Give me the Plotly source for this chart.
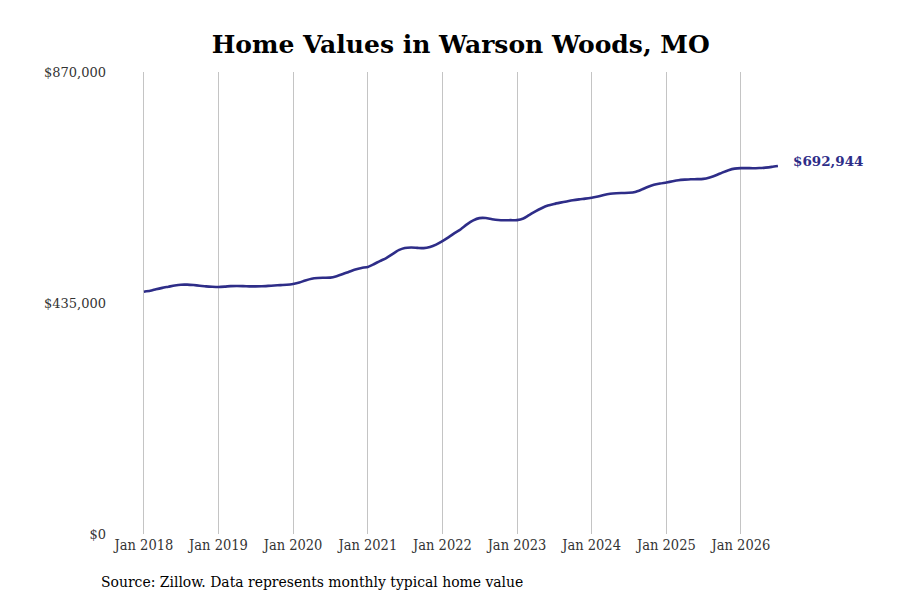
import pandas as pd
import plotly.graph_objects as go

# Monthly typical home value, Jan 2018 - Jul 2026
values_2018 = [456300, 458000, 460800, 463500, 465700, 468000, 469500, 469600, 468800, 467600, 466300, 465500]
values_2019 = [465100, 465800, 466800, 467100, 466800, 466400, 466300, 466500, 467200, 468000, 468700, 469300]
values_2020 = [470800, 473500, 477500, 480800, 482100, 482500, 482800, 485500, 489500, 494000, 498200, 501000]
values_2021 = [503000, 508500, 514000, 519500, 527000, 534500, 538500, 539500, 538800, 538300, 540500, 545000]
values_2022 = [551500, 559000, 566500, 574000, 583000, 590500, 594800, 595000, 592800, 591300, 590800, 591000]
values_2023 = [591000, 594000, 600500, 607500, 613500, 618500, 621500, 624000, 626300, 628500, 630200, 631500]
values_2024 = [633300, 635500, 638500, 640800, 641800, 642200, 642500, 644000, 648500, 653500, 657500, 660000]
values_2025 = [662000, 664300, 666200, 667300, 668000, 668200, 668800, 671500, 675500, 680500, 685000, 688000]
values_2026 = [689000, 689000, 688800, 689200, 690000, 691300, 692944]

values = (values_2018 + values_2019 + values_2020 + values_2021 + values_2022
          + values_2023 + values_2024 + values_2025 + values_2026)
dates = pd.date_range("2018-01-01", periods=len(values), freq="MS")

tick_dates = [f"{y}-01-01" for y in range(2018, 2027)]
tick_labels = [f"Jan {y}" for y in range(2018, 2027)]
y_ticks = [0, 435000, 870000]
y_tick_labels = ["$0", "$435,000", "$870,000"]

title_text = "Home Values in Warson Woods, MO"
source_text = "Source: Zillow. Data represents monthly typical home value"
last_label = f"${values[-1]:,}"

line_color = "#2e2d88"

ML, MR, MT, MB = 112, 108, 64, 74
PW = 900 - ML - MR
PH = 600 - MT - MB

fig = go.Figure()
fig.add_trace(go.Scatter(
    x=dates, y=values, mode="lines",
    line=dict(color=line_color, width=2.6, shape="spline", smoothing=0.6),
    hoverinfo="skip", showlegend=False,
))

fig.add_annotation(
    x=dates[-1], y=values[-1], xref="x", yref="y",
    text=f"<b>{last_label}</b>", showarrow=False,
    xanchor="left", yanchor="middle", xshift=13, yshift=5,
    font=dict(family="DejaVu Serif", size=13.5, color=line_color),
)

fig.add_annotation(
    text=source_text, showarrow=False,
    xref="paper", yref="paper",
    x=(91 - ML) / PW, y=-(574 - (600 - MB)) / PH,
    xanchor="left", yanchor="middle",
    font=dict(family="DejaVu Serif Condensed, DejaVu Serif", size=15.5, color="black"),
)

fig.update_layout(
    width=900, height=600,
    paper_bgcolor="white", plot_bgcolor="white",
    margin=dict(l=ML, r=MR, t=MT, b=MB),
    title=dict(
        text=f"<b>{title_text}</b>", x=0.503, xanchor="center", y=0.94, yanchor="middle",
        font=dict(family="DejaVu Serif", size=25, color="black"),
    ),
    xaxis=dict(
        range=["2017-09-06", "2026-10-17"],
        tickvals=tick_dates, ticktext=tick_labels,
        showgrid=True, gridcolor="#c4c4c4", gridwidth=1,
        zeroline=False, showline=False, ticks="",
        tickfont=dict(family="DejaVu Serif Condensed, DejaVu Serif", size=14.5, color="#333333"),
    ),
    yaxis=dict(
        range=[0, 870000],
        tickvals=y_ticks, ticktext=y_tick_labels,
        showgrid=False, zeroline=False, showline=False, ticks="",
        ticklabelstandoff=13,
        tickfont=dict(family="DejaVu Serif", size=13, color="#333333"),
    ),
)

fig.write_html("out.html")
